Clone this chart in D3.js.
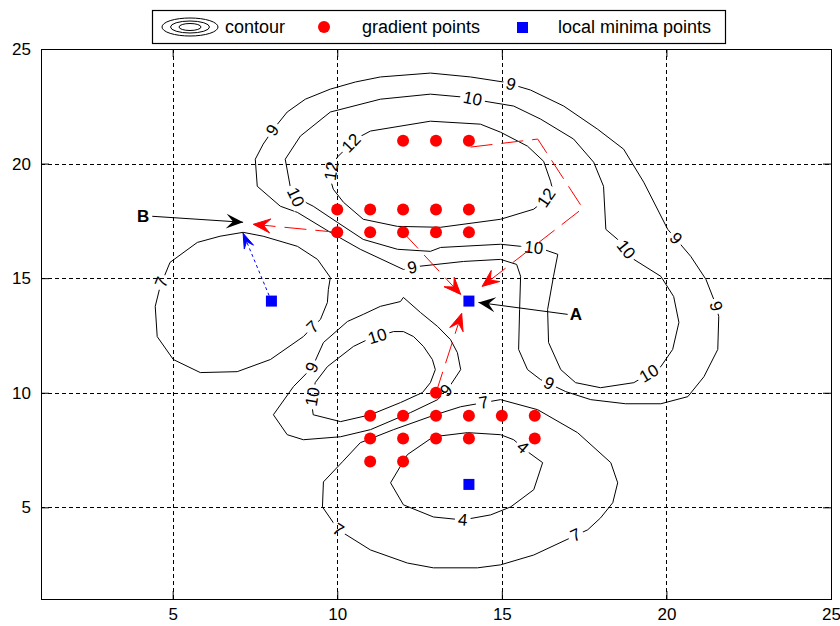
<!DOCTYPE html>
<html>
<head>
<meta charset="utf-8">
<script src="https://cdn.jsdelivr.net/npm/d3@7"></script>
<style>
  html, body { margin: 0; padding: 0; background: #fff; }
  svg { display: block; font-family: "Liberation Sans", Arial, Helvetica, sans-serif; }
</style>
</head>
<body>
<svg id="chart" width="840" height="626"></svg>
<script>
// ---- axis ticks ----
const xTicks = [5, 10, 15, 20, 25];
const yTicks = [5, 10, 15, 20, 25];

// ---- sampled points ----
const gradientPoints = [
  [12, 21], [13, 21], [14, 21],
  [10, 18], [11, 18], [12, 18], [13, 18], [14, 18],
  [10, 17], [11, 17], [12, 17], [13, 17], [14, 17],
  [13, 10],
  [11, 9], [12, 9], [13, 9], [14, 9], [15, 9], [16, 9],
  [11, 8], [12, 8], [13, 8], [14, 8], [16, 8],
  [11, 7], [12, 7]
];
const minimaPoints = [[8, 14], [14, 14], [14, 6]];

// ---- contour lines (closed loops, data units) ----
const c9Upper = [
  [8.06, 21.50], [8.48, 22.25], [9.03, 22.81], [9.79, 23.25], [10.55, 23.56], [11.31, 23.78],
  [12.83, 23.95], [14.05, 23.78], [15.05, 23.56], [15.87, 23.21], [16.88, 22.51], [17.91, 21.50],
  [18.70, 20.63], [19.31, 19.19], [20.04, 17.13], [20.74, 15.95], [21.20, 14.95], [21.44, 14.07],
  [21.59, 13.33], [21.56, 11.89], [21.14, 10.70], [20.65, 9.83], [19.83, 9.52], [18.76, 9.52],
  [17.70, 9.70], [16.94, 10.05], [16.18, 10.57], [15.78, 11.01], [15.51, 11.89], [15.54, 13.63],
  [15.57, 15.08], [15.45, 15.60], [14.96, 15.82], [13.84, 15.73], [12.44, 15.51], [12.01, 15.38],
  [10.70, 16.26], [9.79, 17.00], [8.79, 17.87], [8.27, 18.14], [7.57, 19.01], [7.51, 20.19],
  [7.75, 20.85]
];
const c10Upper = [
  [8.73, 18.53], [8.57, 19.01], [8.42, 20.19], [8.88, 21.20], [9.79, 22.25], [11.31, 22.81],
  [12.83, 23.03], [13.84, 22.90], [14.44, 22.73], [15.36, 22.51], [16.18, 21.94], [17.18, 21.07],
  [17.79, 20.06], [18.09, 19.01], [18.16, 17.13], [18.52, 16.69], [19.01, 15.82], [19.83, 15.08],
  [20.22, 14.20], [20.38, 13.07], [20.19, 11.89], [19.83, 11.14], [19.01, 10.44], [18.00, 10.22],
  [17.24, 10.44], [16.79, 11.01], [16.42, 12.19], [16.39, 13.63], [16.57, 15.08], [16.70, 16.04],
  [16.18, 16.30], [15.57, 16.39], [14.96, 16.48], [13.14, 16.34], [12.83, 16.17], [11.83, 16.26],
  [10.79, 16.69], [10.00, 17.44], [9.27, 18.14]
];
const c12 = [
  [11.01, 21.42], [12.83, 21.85], [14.35, 21.72], [14.96, 21.37], [15.78, 20.76], [16.27, 20.10],
  [16.48, 19.23], [16.54, 18.88], [16.33, 18.44], [15.97, 18.01], [14.96, 17.57], [13.14, 17.22],
  [11.83, 17.26], [10.79, 17.57], [10.19, 18.31], [9.88, 18.88], [9.79, 19.32], [9.85, 19.84],
  [10.00, 20.28], [10.25, 20.63], [10.55, 21.07]
];
const c7Left = [
  [4.92, 15.69], [5.75, 16.56], [6.44, 16.83], [7.14, 17.00], [7.75, 16.83], [8.79, 16.39],
  [9.40, 15.82], [9.79, 15.03], [9.73, 14.51], [9.70, 13.94], [9.49, 13.20], [9.24, 12.85],
  [8.97, 12.45], [7.97, 11.45], [6.96, 10.92], [5.84, 10.88], [5.02, 11.45], [4.53, 12.45],
  [4.47, 13.77], [4.62, 14.64]
];
const c9Lower = [
  [8.06, 9.04], [8.48, 8.17], [8.97, 7.95], [10.10, 8.08], [11.01, 8.39], [12.22, 9.13],
  [13.05, 9.70], [13.35, 10.14], [13.75, 11.01], [13.65, 11.75], [13.44, 12.32], [13.05, 12.89],
  [12.53, 13.50], [12.01, 14.16], [11.92, 13.98], [11.31, 13.77], [10.79, 13.42], [10.31, 13.11],
  [9.58, 12.19], [9.24, 11.10], [8.67, 10.27]
];
const c10Lower = [
  [9.27, 9.04], [10.10, 8.74], [11.01, 9.04], [11.92, 9.57], [12.59, 10.01], [12.83, 10.44],
  [12.98, 11.01], [12.89, 11.45], [12.62, 12.02], [12.32, 12.45], [12.01, 12.67], [11.71, 12.67],
  [10.92, 12.32], [10.49, 12.02], [9.70, 11.14], [9.33, 10.44], [9.24, 9.70], [9.24, 9.35]
];
const c7Lower = [
  [13.75, 9.39], [14.96, 9.70], [16.09, 9.26], [17.30, 8.26], [18.31, 6.95], [18.52, 6.07],
  [18.37, 5.20], [18.00, 4.54], [17.61, 4.02], [15.97, 2.92], [14.96, 2.49], [14.26, 2.36],
  [12.92, 2.36], [12.13, 2.57], [11.01, 3.14], [10.03, 4.02], [9.55, 5.02], [9.58, 6.11],
  [10.16, 6.99], [10.70, 7.82], [11.71, 8.39], [12.98, 9.04]
];
const c4 = [
  [12.13, 7.30], [11.62, 6.07], [12.01, 5.11], [12.92, 4.58], [13.81, 4.45], [14.66, 4.67],
  [15.27, 5.02], [15.97, 5.77], [16.24, 6.95], [15.78, 7.43], [15.36, 7.95], [14.96, 8.17],
  [13.96, 8.26], [12.92, 8.08]
];

// ---- inline contour label anchors ----
const labels9Upper = [[8.03, 21.46], [15.27, 23.43], [20.22, 16.65], [21.50, 13.77], [16.42, 10.36], [12.29, 15.38]];
const labels10Upper = [[8.73, 18.53], [14.11, 22.81], [18.70, 16.17], [19.53, 10.70], [15.97, 16.34]];
const labels12 = [[16.33, 18.53], [9.85, 19.67], [10.46, 20.85]];
const labels7Left = [[4.68, 14.81], [9.24, 12.89]];
const labels9Lower = [[13.35, 10.05], [9.24, 11.10]];
const labels10Lower = [[11.22, 12.45], [9.24, 9.83]];
const labels7Lower = [[14.44, 9.61], [17.24, 3.80], [10.03, 4.02]];
const labels4 = [[13.81, 4.45], [15.63, 7.60]];

// ---- descent paths ----
const gradientPaths = [
  [[14.05, 20.72], [16.09, 21.07], [17.46, 18.05], [14.40, 14.64]],
  [[12, 17], [13.75, 14.29]],
  [[10, 17], [7.45, 17.35]],
  [[13, 10], [13.78, 13.46]]
];
const minimaPath = [[8, 14], [7.14, 16.96]];

// ---- pointer annotations ----
const pointerNames = ["B", "A"];
const pointerFrom = [[4.38, 17.70], [17.00, 13.42]];
const pointerTo = [[7.14, 17.44], [14.29, 13.94]];

// ---- legend entries ----
const legendNames = ["contour", "gradient points", "local minima points"];

const contourSet = [
  { level: 9, pts: c9Upper, labels: labels9Upper },
  { level: 10, pts: c10Upper, labels: labels10Upper },
  { level: 12, pts: c12, labels: labels12 },
  { level: 7, pts: c7Left, labels: labels7Left },
  { level: 9, pts: c9Lower, labels: labels9Lower },
  { level: 10, pts: c10Lower, labels: labels10Lower },
  { level: 7, pts: c7Lower, labels: labels7Lower },
  { level: 4, pts: c4, labels: labels4 }
];

const svg = d3.select("#chart");
const x = d3.scaleLinear().domain([1, 25]).range([41, 831]);
const y = d3.scaleLinear().domain([1, 25]).range([599, 49]);
const px = v => Math.round(x(v)) + 0.5;
const py = v => Math.round(y(v)) + 0.5;

const plot = svg.append("g");

// dotted grid
const grid = plot.append("g")
  .attr("stroke", "#000").attr("stroke-width", 1).attr("stroke-dasharray", "4,3").attr("fill", "none");
grid.selectAll("line.gx").data(xTicks.filter(v => v < 25)).join("line")
  .attr("x1", d => px(d)).attr("x2", d => px(d))
  .attr("y1", y(1)).attr("y2", y(25));
grid.selectAll("line.gy").data(yTicks.filter(v => v < 25)).join("line")
  .attr("x1", x(1)).attr("x2", x(25))
  .attr("y1", d => py(d)).attr("y2", d => py(d));

// label placement: snap each anchor to its contour and orient along it
const labelFont = 17;
function placeLabel(pts, anchor) {
  const P = pts.map(p => [x(p[0]), y(p[1])]);
  const a = [x(anchor[0]), y(anchor[1])];
  let best = null;
  for (let i = 0; i < P.length; i++) {
    const p = P[i], q = P[(i + 1) % P.length];
    const dx = q[0] - p[0], dy = q[1] - p[1];
    const len2 = dx * dx + dy * dy || 1;
    let t = ((a[0] - p[0]) * dx + (a[1] - p[1]) * dy) / len2;
    t = Math.max(0, Math.min(1, t));
    const c = [p[0] + t * dx, p[1] + t * dy];
    const d = Math.hypot(c[0] - a[0], c[1] - a[1]);
    if (!best || d < best.d) best = { d, c, ang: Math.atan2(dy, dx) * 180 / Math.PI };
  }
  let ang = best.ang;
  if (ang > 90) ang -= 180;
  if (ang <= -90) ang += 180;
  return { cx: best.c[0], cy: best.c[1], ang };
}

const placed = [];
contourSet.forEach(cs => {
  cs.labels.forEach(l => {
    const p = placeLabel(cs.pts, l);
    p.text = String(cs.level);
    placed.push(p);
  });
});

// mask that breaks the contour lines under their labels
const defs = svg.append("defs");
const mask = defs.append("mask").attr("id", "labelGaps")
  .attr("maskUnits", "userSpaceOnUse").attr("x", 0).attr("y", 0).attr("width", 840).attr("height", 626);
mask.append("rect").attr("x", 0).attr("y", 0).attr("width", 840).attr("height", 626).attr("fill", "#fff");
mask.selectAll("rect.gap").data(placed).join("rect")
  .attr("x", d => -(d.text.length * labelFont * 0.56) / 2 - 3)
  .attr("y", -labelFont * 0.42)
  .attr("width", d => d.text.length * labelFont * 0.56 + 6)
  .attr("height", labelFont * 0.84)
  .attr("fill", "#000")
  .attr("transform", d => `translate(${d.cx},${d.cy}) rotate(${d.ang})`);

const line = d3.line().x(d => x(d[0])).y(d => y(d[1]));
const closedLine = d3.line().x(d => x(d[0])).y(d => y(d[1])).curve(d3.curveLinearClosed);

plot.append("g").attr("mask", "url(#labelGaps)")
  .selectAll("path").data(contourSet).join("path")
  .attr("d", d => closedLine(d.pts))
  .attr("fill", "none").attr("stroke", "#000").attr("stroke-width", 1);

plot.append("g").selectAll("text").data(placed).join("text")
  .attr("transform", d => `translate(${d.cx},${d.cy}) rotate(${d.ang})`)
  .attr("text-anchor", "middle").attr("dominant-baseline", "central")
  .attr("font-size", labelFont).attr("fill", "#000")
  .text(d => d.text);

// arrowhead with a notched back, at the end of a pixel-space segment
function headPath(from, tip, L, W, notch) {
  const dx = tip[0] - from[0], dy = tip[1] - from[1];
  const n = Math.hypot(dx, dy) || 1;
  const ux = dx / n, uy = dy / n, vx = -uy, vy = ux;
  const b = [tip[0] - ux * L, tip[1] - uy * L];
  const pts = [
    tip,
    [b[0] + vx * W / 2, b[1] + vy * W / 2],
    [tip[0] - ux * L * notch, tip[1] - uy * L * notch],
    [b[0] - vx * W / 2, b[1] - vy * W / 2]
  ];
  return "M" + pts.map(p => p[0].toFixed(2) + "," + p[1].toFixed(2)).join("L") + "Z";
}
function toPx(p) { return [x(p[0]), y(p[1])]; }

// descent paths (red dashed)
const arrows = plot.append("g");
arrows.selectAll("path.gline").data(gradientPaths).join("path")
  .attr("d", d => line(d))
  .attr("fill", "none").attr("stroke", "#ff0000").attr("stroke-width", 1).attr("stroke-dasharray", "22,9");
arrows.selectAll("path.ghead").data(gradientPaths).join("path")
  .attr("d", d => headPath(toPx(d[d.length - 2]), toPx(d[d.length - 1]), 17, 14, 0.6))
  .attr("fill", "#ff0000").attr("stroke", "#ff0000").attr("stroke-width", 1);

// local descent from the isolated minimum (blue dotted)
arrows.append("path")
  .attr("d", line(minimaPath))
  .attr("fill", "none").attr("stroke", "#0000ff").attr("stroke-width", 1).attr("stroke-dasharray", "3,3");
arrows.append("path")
  .attr("d", headPath(toPx(minimaPath[0]), toPx(minimaPath[1]), 15, 10, 0.6))
  .attr("fill", "#0000ff").attr("stroke", "#0000ff").attr("stroke-width", 1);

// gradient points
plot.append("g").selectAll("circle").data(gradientPoints).join("circle")
  .attr("cx", d => x(d[0])).attr("cy", d => y(d[1])).attr("r", 6)
  .attr("fill", "#ff0000");

// local minima
const sq = 11;
plot.append("g").selectAll("rect").data(minimaPoints).join("rect")
  .attr("x", d => x(d[0]) - sq / 2).attr("y", d => y(d[1]) - sq / 2)
  .attr("width", sq).attr("height", sq).attr("fill", "#0000ff");

// pointer annotations A and B
const ptr = plot.append("g");
pointerNames.forEach((name, i) => {
  const f = toPx(pointerFrom[i]), t = toPx(pointerTo[i]);
  ptr.append("line").attr("x1", f[0]).attr("y1", f[1]).attr("x2", t[0]).attr("y2", t[1])
    .attr("stroke", "#000").attr("stroke-width", 1);
  ptr.append("path").attr("d", headPath(f, t, 17, 15, 0.6)).attr("fill", "#000");
  const leftSide = f[0] < t[0];
  ptr.append("text")
    .attr("x", leftSide ? f[0] - 3 : f[0] + 2).attr("y", f[1])
    .attr("text-anchor", leftSide ? "end" : "start")
    .attr("dominant-baseline", "central")
    .attr("font-size", 17).attr("font-weight", "bold")
    .text(name);
});

// axes box with inward ticks on all four sides
const tickLen = 8;
const axes = svg.append("g").attr("font-size", 17);
const fmt = d3.format("d");
const gB = axes.append("g").attr("transform", `translate(0,${y(1)})`)
  .call(d3.axisBottom(x).tickValues(xTicks).tickSizeInner(-tickLen).tickSizeOuter(0).tickPadding(9).tickFormat(fmt));
const gT = axes.append("g").attr("transform", `translate(0,${y(25)})`)
  .call(d3.axisTop(x).tickValues(xTicks).tickSizeInner(-tickLen).tickSizeOuter(0).tickFormat(() => ""));
const gL = axes.append("g").attr("transform", `translate(${x(1)},0)`)
  .call(d3.axisLeft(y).tickValues(yTicks).tickSizeInner(-tickLen).tickSizeOuter(0).tickPadding(10).tickFormat(fmt));
const gR = axes.append("g").attr("transform", `translate(${x(25)},0)`)
  .call(d3.axisRight(y).tickValues(yTicks).tickSizeInner(-tickLen).tickSizeOuter(0).tickFormat(() => ""));
[gB, gT, gL, gR].forEach(g => {
  g.attr("font-size", 17).attr("font-family", "\"Liberation Sans\", Arial, sans-serif");
  g.selectAll(".domain").remove();
  g.selectAll("text").attr("fill", "#000");
  g.selectAll(".tick line").attr("stroke", "#000");
});
axes.append("rect")
  .attr("x", Math.round(x(1)) + 0.5).attr("y", Math.round(y(25)) + 0.5)
  .attr("width", Math.round(x(25)) - Math.round(x(1))).attr("height", Math.round(y(1)) - Math.round(y(25)))
  .attr("fill", "none").attr("stroke", "#000").attr("stroke-width", 1);

// legend
const lg = svg.append("g");
lg.append("rect").attr("x", 152.5).attr("y", 10.5).attr("width", 573).attr("height", 33)
  .attr("fill", "#fff").attr("stroke", "#000").attr("stroke-width", 1.2);
const ringRx = [28, 19.5, 11], ringRy = [9, 6, 3.5];
lg.selectAll("ellipse").data(ringRx).join("ellipse")
  .attr("cx", 190).attr("cy", 27).attr("rx", d => d).attr("ry", (d, i) => ringRy[i])
  .attr("fill", "none").attr("stroke", "#000").attr("stroke-width", 1);
lg.append("circle").attr("cx", 324).attr("cy", 27).attr("r", 6).attr("fill", "#ff0000");
lg.append("rect").attr("x", 517).attr("y", 22).attr("width", 11).attr("height", 11).attr("fill", "#0000ff");
const legendX = [225, 362, 558];
lg.selectAll("text").data(legendNames).join("text")
  .attr("x", (d, i) => legendX[i]).attr("y", 27)
  .attr("dominant-baseline", "central")
  .attr("font-size", 18).attr("fill", "#000")
  .text(d => d);
</script>
</body>
</html>
